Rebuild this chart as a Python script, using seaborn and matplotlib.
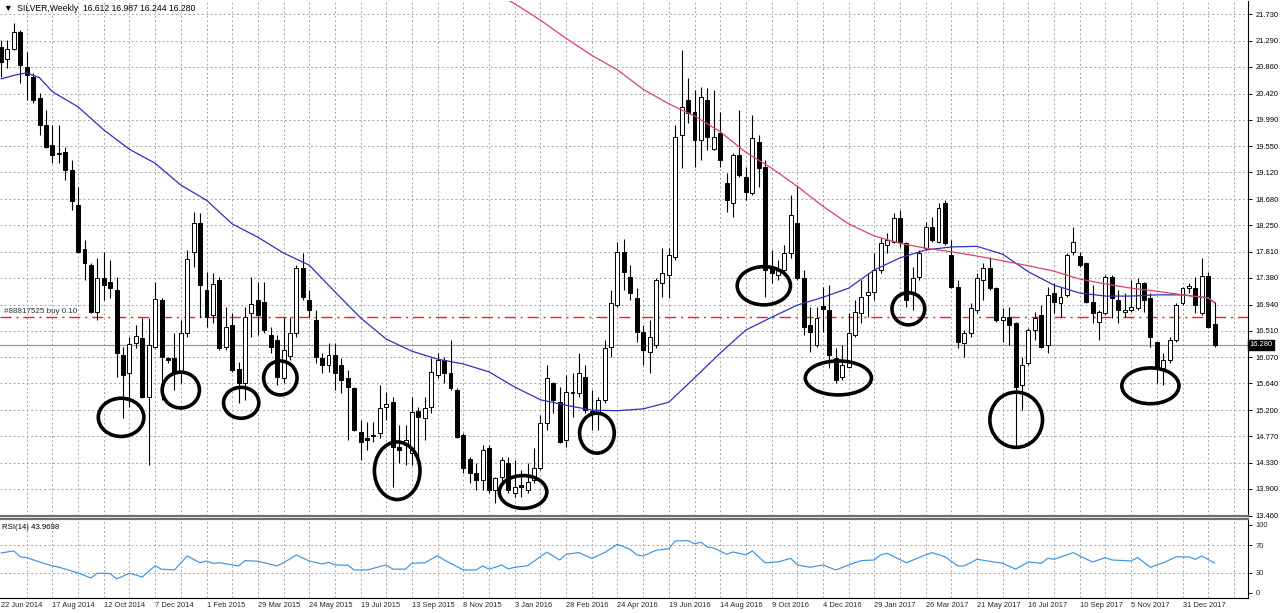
import numpy as np
import matplotlib
matplotlib.use("Agg")
import matplotlib.pyplot as plt
from matplotlib.patches import Ellipse
import seaborn as sns

# weekly SILVER candles, bar 0 = week of 22 Jun 2014
opens = [21.19, 20.99, 21.15, 21.43, 20.86, 20.69, 20.35, 19.90, 19.57, 19.42,
         19.46, 19.16, 18.58, 17.86, 17.59, 16.82, 17.38, 17.31, 17.18, 16.11,
         15.81, 16.31, 16.39, 15.42, 16.24, 17.02, 16.06, 16.06, 15.81, 16.47,
         17.81, 18.28, 17.18, 16.77, 17.34, 16.24, 16.60, 15.88, 15.65, 16.80,
         17.02, 16.98, 16.44, 16.36, 15.73, 16.09, 16.47, 17.54, 17.02, 16.69,
         16.06, 15.94, 16.11, 15.94, 15.73, 15.56, 14.84, 14.74, 14.79, 14.82,
         15.25, 15.33, 14.59, 14.62, 14.49, 15.19, 15.07, 15.25, 15.78, 16.03,
         15.81, 15.53, 14.79, 14.39, 14.16, 14.05, 14.58, 13.88, 14.10, 14.33,
         13.83, 13.96, 13.88, 14.05, 14.25, 14.99, 15.65, 15.33, 14.71, 15.50,
         15.48, 15.75, 15.19, 15.15, 15.37, 16.24, 16.93, 17.81, 17.39, 17.05,
         16.49, 16.16, 16.27, 17.30, 17.43, 17.72, 19.74, 20.31, 20.11, 19.65,
         20.31, 19.50, 19.77, 18.94, 18.61, 19.41, 19.04, 18.78, 19.62, 19.21,
         17.56, 17.43, 17.51, 17.79, 18.28, 17.38, 16.60, 16.27, 16.92, 16.85,
         16.06, 15.75, 15.91, 16.44, 16.80, 17.10, 17.15, 17.51, 17.92, 17.97,
         18.37, 17.95, 17.13, 17.39, 17.87, 18.22, 17.97, 18.61, 17.76, 17.23,
         16.31, 16.47, 16.85, 17.34, 17.54, 17.21, 16.69, 16.74, 16.64, 15.61,
         15.98, 16.52, 16.77, 16.27, 17.13, 16.97, 17.10, 17.81, 17.74, 17.63,
         16.98, 16.65, 16.80, 17.39, 17.02, 16.82, 16.85, 16.88, 17.30, 17.05,
         16.32, 15.89, 16.03, 16.36, 16.97, 17.21, 17.21, 16.80, 17.41, 16.612]
highs = [21.30, 21.30, 21.58, 21.47, 21.10, 20.76, 20.43, 20.15, 19.90, 19.90,
         19.54, 19.32, 18.88, 18.00, 17.63, 17.71, 17.81, 17.67, 17.39, 16.24,
         16.41, 16.60, 16.72, 16.72, 17.31, 17.05, 16.08, 16.47, 16.69, 17.84,
         18.47, 18.45, 17.48, 17.46, 17.39, 16.90, 16.80, 15.99, 16.90, 17.39,
         17.31, 17.31, 16.57, 16.44, 16.74, 16.74, 17.59, 17.79, 17.18, 16.85,
         16.14, 16.31, 16.31, 16.06, 15.86, 15.58, 15.04, 15.00, 15.00, 15.61,
         15.50, 15.42, 14.95, 14.95, 15.42, 15.25, 15.42, 16.06, 16.14, 16.08,
         16.36, 15.56, 14.82, 14.43, 14.33, 14.62, 14.62, 14.10, 14.43, 14.43,
         14.38, 14.21, 14.33, 14.58, 15.12, 15.94, 15.66, 15.58, 15.78, 15.81,
         16.14, 15.94, 15.53, 15.42, 16.36, 17.18, 17.97, 18.02, 17.59, 17.21,
         16.60, 16.69, 17.38, 17.87, 17.87, 19.90, 21.14, 20.68, 20.48, 20.53,
         20.51, 20.48, 20.11, 19.11, 19.44, 20.15, 19.21, 20.07, 19.74, 19.32,
         17.84, 17.67, 17.92, 18.75, 18.91, 17.51, 16.90, 16.90, 17.23, 17.26,
         16.22, 16.27, 16.80, 17.02, 17.34, 17.46, 17.79, 18.04, 18.12, 18.45,
         18.50, 17.97, 17.56, 17.84, 18.30, 18.38, 18.61, 18.66, 18.00, 17.34,
         16.52, 16.97, 17.46, 17.63, 17.72, 17.23, 16.88, 16.90, 16.65, 16.08,
         16.55, 16.82, 16.93, 17.23, 17.30, 17.23, 17.79, 18.22, 17.81, 17.64,
         17.26, 16.85, 17.43, 17.43, 17.18, 17.13, 17.34, 17.38, 17.31, 17.13,
         16.33, 16.14, 16.41, 16.97, 17.23, 17.30, 17.39, 17.71, 17.48, 16.987]
lows = [20.69, 20.84, 21.14, 20.59, 20.31, 20.26, 19.74, 19.52, 19.27, 19.27,
        18.99, 18.50, 17.79, 17.34, 16.80, 16.69, 17.02, 17.05, 15.75, 15.07,
        15.25, 16.22, 15.40, 14.29, 16.22, 15.37, 15.98, 15.53, 15.65, 16.41,
        17.56, 16.74, 16.57, 16.64, 16.19, 16.19, 15.83, 15.32, 15.37, 16.41,
        16.44, 16.47, 16.14, 15.61, 15.65, 16.03, 16.41, 17.02, 16.74, 15.98,
        15.81, 15.83, 15.53, 15.48, 14.71, 14.85, 14.38, 14.54, 14.67, 14.74,
        15.04, 13.93, 14.33, 14.29, 14.29, 14.43, 14.71, 15.15, 15.73, 15.65,
        15.53, 14.74, 14.16, 14.00, 13.88, 13.88, 13.83, 13.67, 14.00, 13.83,
        13.77, 13.77, 13.83, 14.00, 14.21, 14.87, 15.15, 14.66, 14.59, 15.09,
        15.42, 15.15, 14.87, 14.87, 15.32, 16.08, 16.90, 17.18, 17.02, 16.32,
        15.94, 15.81, 16.22, 17.06, 17.05, 17.67, 19.19, 19.93, 19.21, 19.32,
        19.49, 19.49, 19.21, 18.47, 18.38, 19.04, 18.66, 18.75, 18.88, 17.06,
        17.30, 17.34, 17.46, 17.71, 17.34, 16.44, 16.16, 16.24, 16.49, 15.89,
        15.65, 15.70, 15.89, 16.41, 16.64, 16.74, 17.02, 17.46, 17.79, 17.95,
        17.89, 16.90, 16.85, 17.34, 17.84, 17.97, 17.95, 17.92, 17.21, 16.22,
        16.08, 16.41, 16.80, 17.02, 17.18, 16.65, 16.32, 16.27, 14.59, 15.20,
        15.94, 16.36, 16.22, 16.14, 16.80, 16.74, 17.06, 17.76, 17.56, 16.97,
        16.64, 16.36, 16.77, 16.72, 16.64, 16.74, 16.82, 16.85, 16.82, 16.24,
        15.65, 15.61, 15.98, 16.32, 16.93, 17.13, 16.80, 16.77, 16.55, 16.244]
closes = [20.94, 21.15, 21.43, 20.89, 20.72, 20.31, 19.90, 19.54, 19.41, 19.44,
          19.16, 18.65, 17.81, 17.63, 16.82, 17.38, 17.26, 17.21, 16.14, 15.78,
          16.29, 16.42, 15.42, 16.27, 17.03, 16.08, 16.03, 15.81, 16.47, 17.69,
          18.28, 17.26, 16.74, 17.28, 16.22, 16.57, 15.86, 15.65, 16.74, 16.95,
          16.77, 16.52, 16.24, 15.75, 16.19, 16.47, 17.54, 17.06, 16.85, 16.08,
          15.94, 16.11, 15.81, 15.70, 15.58, 14.87, 14.67, 14.71, 14.77, 15.23,
          15.30, 14.59, 14.54, 14.71, 15.17, 15.09, 15.23, 15.83, 16.03, 15.81,
          15.56, 14.76, 14.25, 14.16, 14.05, 14.54, 13.88, 14.08, 14.38, 13.88,
          13.93, 13.93, 14.01, 14.25, 14.99, 15.73, 15.37, 14.67, 15.50, 15.48,
          15.81, 15.20, 15.15, 15.37, 16.22, 16.97, 17.81, 17.48, 17.13, 16.49,
          16.19, 16.41, 17.34, 17.46, 17.76, 19.70, 20.20, 20.10, 19.65, 20.36,
          19.70, 19.70, 19.32, 18.66, 19.41, 19.08, 18.80, 19.69, 19.19, 17.51,
          17.46, 17.51, 17.79, 18.42, 17.38, 16.57, 16.49, 16.72, 16.87, 16.11,
          15.70, 15.94, 16.47, 16.82, 17.06, 17.15, 17.51, 17.95, 18.00, 18.37,
          17.97, 17.02, 17.38, 17.79, 18.22, 18.00, 18.53, 17.95, 17.23, 16.32,
          16.47, 16.88, 17.38, 17.54, 17.21, 16.69, 16.74, 16.60, 15.58, 15.94,
          16.52, 16.72, 16.24, 17.10, 16.98, 17.06, 17.76, 17.97, 17.59, 16.98,
          16.80, 16.82, 17.39, 17.05, 16.85, 16.85, 16.90, 17.30, 17.02, 16.41,
          15.89, 16.03, 16.36, 16.93, 17.21, 17.25, 16.93, 17.41, 16.57, 16.280]

# moving averages (bar index, price)
ma_blue_bars = [0, 2, 4, 6, 8, 12, 16, 20, 24, 28, 32, 36, 40, 44, 48, 52, 56, 60, 64,
                68, 72, 76, 80, 84, 88, 92, 96, 100, 104, 108, 112, 116, 120, 124,
                128, 132, 136, 140, 144, 148, 152, 156, 160, 164, 168, 172, 176,
                180, 184, 188, 189]
ma_blue = [20.66, 20.72, 20.76, 20.68, 20.45, 20.20, 19.82, 19.50, 19.27, 18.91,
           18.66, 18.27, 18.05, 17.79, 17.59, 17.15, 16.72, 16.37, 16.17, 16.04,
           15.96, 15.83, 15.58, 15.37, 15.28, 15.20, 15.19, 15.22, 15.33, 15.73,
           16.14, 16.52, 16.73, 16.93, 17.06, 17.21, 17.51, 17.71, 17.84, 17.89,
           17.90, 17.77, 17.48, 17.26, 17.13, 17.08, 17.08, 17.10, 17.10, 17.05,
           16.97]
ma_red_bars = [79, 80, 84, 88, 92, 96, 100, 104, 108, 112, 116, 120, 124, 128,
               132, 136, 140, 144, 148, 152, 156, 160, 164, 168, 172, 176, 180,
               184, 188, 189]
ma_red = [21.96, 21.90, 21.63, 21.33, 21.05, 20.81, 20.49, 20.25, 20.05, 19.79,
          19.45, 19.19, 18.89, 18.56, 18.27, 18.07, 17.95, 17.87, 17.81, 17.74,
          17.66, 17.58, 17.49, 17.36, 17.28, 17.21, 17.16, 17.10, 17.05, 16.97]

# RSI(14)
rsi_bars = [0, 2, 3, 4, 6, 8, 9, 12, 14, 15, 17, 18, 20, 22, 24, 25, 27, 29, 31, 32,
            33, 34, 37, 38, 40, 43, 44, 46, 48, 50, 51, 52, 54, 55, 57, 60, 61, 63,
            64, 66, 68, 69, 72, 74, 75, 76, 78, 79, 80, 82, 85, 87, 88, 90, 92, 94,
            96, 98, 99, 100, 102, 104, 105, 107, 108, 109, 110, 111, 113, 114, 116,
            117, 119, 121, 123, 124, 126, 128, 130, 132, 134, 136, 137, 138, 141,
            144, 145, 147, 149, 150, 152, 155, 156, 158, 160, 162, 163, 164, 167,
            168, 170, 172, 173, 176, 177, 179, 181, 183, 185, 186, 187, 189]
rsi_vals = [58.8, 61.8, 53, 52, 45.6, 39.7, 38, 29.4, 22, 29, 28.5, 20.6, 29, 23.5,
            40, 35, 33.8, 54.4, 44.4, 47, 43.6, 44.4, 39.7, 47.6, 46.6, 39.7, 44.4,
            55.9, 47, 42.6, 45, 41.2, 40.7, 33.8, 33.8, 41.2, 35, 35, 43.6, 44.4,
            54.9, 48.5, 33.8, 33.8, 39.7, 35, 41, 35.3, 37.7, 40, 60, 48.5, 56.8,
            59.3, 50.9, 59.3, 71.6, 64, 56, 54.4, 62.7, 65, 76.5, 77, 72.5, 74.5,
            67.6, 66, 56.9, 60.3, 56, 61.8, 44.4, 45.6, 50.9, 41.2, 37.7, 41.2,
            33.8, 41.2, 47.6, 48.5, 56, 58.3, 44.4, 56, 59.3, 53.4, 39.7, 39.7,
            49.5, 45, 43.6, 35, 45.6, 43.6, 50.9, 49.5, 59.3, 54.4, 45.6, 52, 48.5,
            47, 52, 37.7, 44.4, 53, 53, 49.5, 54.4, 43.97]

price_ticks = [21.730, 21.290, 20.860, 20.420, 19.990, 19.550, 19.120, 18.680,
               18.250, 17.810, 17.380, 16.940, 16.510, 16.070, 15.640, 15.200,
               14.770, 14.330, 13.900, 13.460]
date_labels = ["22 Jun 2014", "17 Aug 2014", "12 Oct 2014", "7 Dec 2014",
               "1 Feb 2015", "29 Mar 2015", "24 May 2015", "19 Jul 2015",
               "13 Sep 2015", "8 Nov 2015", "3 Jan 2016", "28 Feb 2016",
               "24 Apr 2016", "19 Jun 2016", "14 Aug 2016", "9 Oct 2016",
               "4 Dec 2016", "29 Jan 2017", "26 Mar 2017", "21 May 2017",
               "16 Jul 2017", "10 Sep 2017", "5 Nov 2017", "31 Dec 2017"]

order_price = 16.735
bid_price = 16.280

# hand-drawn circles: centre bar, centre price, width (bars), height (price)
ell_x = [18.7, 28.0, 37.4, 43.5, 61.7, 81.3, 92.8, 118.8, 130.4, 141.3, 158.1, 179.0]
ell_y = [15.08, 15.53, 15.32, 15.73, 14.20, 13.85, 14.82, 17.25, 15.73, 16.87, 15.04, 15.60]
ell_w = [7.1, 5.8, 5.5, 5.2, 7.1, 7.4, 5.4, 8.3, 10.3, 5.1, 8.2, 8.9]
ell_h = [0.63, 0.59, 0.51, 0.56, 0.95, 0.54, 0.66, 0.63, 0.56, 0.53, 0.91, 0.59]

sns.set_style("white")
plt.rcParams["font.family"] = ["Liberation Sans", "DejaVu Sans"]
plt.rcParams["font.size"] = 5.4

fig = plt.figure(figsize=(12.8, 6.13), dpi=100)
ax = fig.add_axes([0, 0.1582, 0.975, 0.8401])
ax_rsi = fig.add_axes([0, 0.0245, 0.975, 0.1289])

o = np.array(opens)
h = np.array(highs)
l = np.array(lows)
c = np.array(closes)
bars = np.arange(len(o))
up = c >= o

grid_kw = dict(color="#a6a6a6", lw=0.7, linestyle=(0, (2, 2.5)), zorder=0)
for a in (ax, ax_rsi):
    for b in range(4, 195, 4):
        a.axvline(b, **grid_kw)
for t in price_ticks:
    ax.axhline(t, **grid_kw)
for t in (30, 70):
    ax_rsi.axhline(t, **grid_kw)

# candles
ax.vlines(bars, l, h, color="black", lw=0.8, zorder=2)
ax.bar(bars, np.abs(c - o), bottom=np.minimum(o, c), width=0.62,
       color=np.where(up, "white", "black"), edgecolor="black", lw=0.7, zorder=3)

sns.lineplot(x=ma_blue_bars, y=ma_blue, ax=ax, color="#2f2fc0", lw=0.9, zorder=4)
sns.lineplot(x=ma_red_bars, y=ma_red, ax=ax, color="#dc4262", lw=0.9, zorder=4)

ax.axhline(order_price, color="#ff1a1a", lw=1.0, linestyle=(0, (8, 3.5, 1.5, 3.5)), zorder=1)
ax.axhline(bid_price, color="#9a9a9a", lw=0.9, zorder=1)
ax.text(0.4, order_price + 0.035, "#88817525 buy 0.10", ha="left", va="bottom",
        color="#303030", fontsize=5.8)

for ex, ey, ew, eh in zip(ell_x, ell_y, ell_w, ell_h):
    ax.add_patch(Ellipse((ex, ey), ew, eh, fill=False, ec="black", lw=2.6, zorder=5))

ax.set_xlim(-0.16, 194.2)
ax.set_ylim(13.453, 21.945)
ax.set_xticks([])
ax.yaxis.tick_right()
ax.set_yticks(price_ticks)
ax.set_yticklabels([f"{t:.3f}" for t in price_ticks])
ax.tick_params(axis="y", direction="out", length=3, width=0.7, pad=2.5,
               labelsize=5.4, colors="black")
ax.set_xlabel("")
ax.set_ylabel("")
ax.text(1.0015, bid_price, f"{bid_price:.3f}", transform=ax.get_yaxis_transform(),
        ha="left", va="center", color="white", fontsize=5.4, clip_on=False,
        bbox=dict(boxstyle="square,pad=0.2", fc="black", ec="black"))
ax.text(0.003, 0.995, "\u25bc  SILVER,Weekly  16.612 16.987 16.244 16.280",
        transform=ax.transAxes, ha="left", va="top", fontsize=6.2, color="black")

# RSI panel
sns.lineplot(x=rsi_bars, y=rsi_vals, ax=ax_rsi, color="#3b93e4", lw=0.85, zorder=3)
ax_rsi.set_xlim(-0.16, 194.2)
ax_rsi.set_ylim(-7.4, 108.8)
ax_rsi.yaxis.tick_right()
ax_rsi.set_yticks([0, 30, 70, 100])
ax_rsi.tick_params(axis="y", direction="out", length=3, width=0.7, pad=2.5, labelsize=5.4)
ax_rsi.set_xticks(range(0, 8 * len(date_labels), 8))
ax_rsi.set_xticklabels(date_labels)
ax_rsi.tick_params(axis="x", direction="out", length=2, width=0.7, pad=1, labelsize=5.4)
for lab in ax_rsi.get_xticklabels():
    lab.set_ha("left")
ax_rsi.set_xlabel("")
ax_rsi.set_ylabel("")
ax_rsi.text(0.002, 0.93, "RSI(14) 43.9698", transform=ax_rsi.transAxes,
            ha="left", va="top", fontsize=5.6, color="black")

for a in (ax, ax_rsi):
    a.spines["left"].set_visible(False)
    a.spines["right"].set_color("black")
    a.spines["right"].set_linewidth(0.8)
ax.spines["top"].set_visible(False)
ax.spines["bottom"].set_color("#6e6e6e")
ax.spines["bottom"].set_linewidth(1.6)
ax_rsi.spines["top"].set_color("#6e6e6e")
ax_rsi.spines["top"].set_linewidth(1.6)
ax_rsi.spines["bottom"].set_color("black")
ax_rsi.spines["bottom"].set_linewidth(0.8)

fig.savefig("out.png", dpi=100)
